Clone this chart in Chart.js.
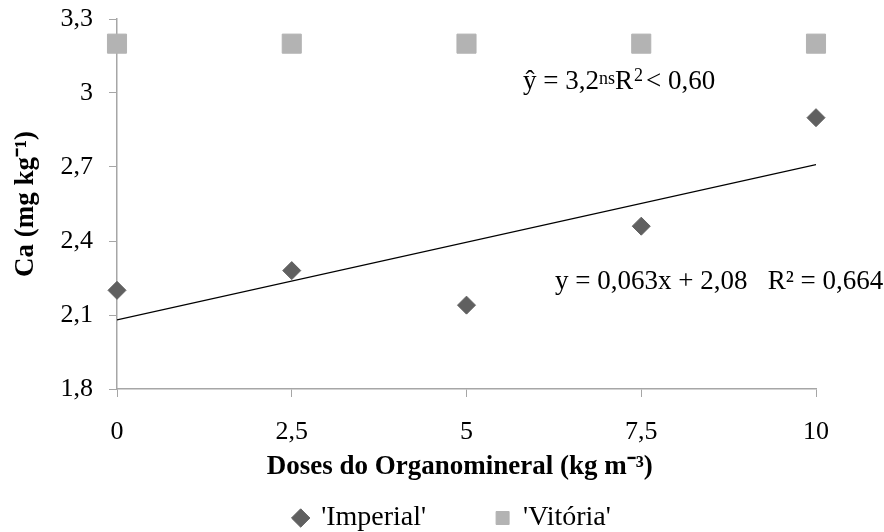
<!DOCTYPE html>
<html>
<head>
<meta charset="utf-8">
<script src="https://cdn.jsdelivr.net/npm/chart.js@4"></script>
<style>
  html, body { margin: 0; padding: 0; background: #fff; }
  #wrap { width: 884px; height: 532px; }
</style>
</head>
<body>
<div id="wrap"><canvas id="caChart" width="884" height="532"></canvas></div>
<script>
const doses = [0, 2.5, 5, 7.5, 10];
const imperial = [2.2, 2.28, 2.14, 2.46, 2.9];
const vitoria = [3.2, 3.2, 3.2, 3.2, 3.2];
// reta ajustada para 'Imperial' (extremos)
const trendX = [0, 10];
const trendY = [2.08, 2.71];
const yTicks = [1.8, 2.1, 2.4, 2.7, 3, 3.3];

const serif = "'Liberation Serif', 'Times New Roman', serif";

function fmt(v) {
  return String(Math.round(v * 10) / 10).replace(".", ",");
}

// sem folga automática dos rótulos: a área do gráfico fica onde o layout manda
function noPad(scale) {
  scale.paddingTop = 0;
  scale.paddingBottom = 0;
  scale.paddingLeft = 0;
  scale.paddingRight = 0;
}

// textos das equações, ancorados em coordenadas dos dados
const equations = {
  id: "equations",
  afterDraw(chart) {
    const { ctx, scales } = chart;
    const x = scales.x, y = scales.y;
    ctx.save();
    ctx.fillStyle = "#000";
    ctx.textBaseline = "alphabetic";
    ctx.textAlign = "left";

    // ŷ = 3,2ns R² < 0,60
    let px = x.getPixelForValue(5.81);
    let py = y.getPixelForValue(3.017);
    ctx.font = "27px " + serif;
    const a = "ŷ = 3,2";
    ctx.fillText(a, px, py);
    px += ctx.measureText(a).width;
    ctx.font = "18px " + serif;
    ctx.fillText("ns", px, py - 5);
    px += ctx.measureText("ns").width;
    ctx.font = "27px " + serif;
    ctx.fillText("R", px, py);
    px += ctx.measureText("R").width;
    ctx.font = "18px " + serif;
    ctx.fillText("2", px + 1, py - 8);
    px += ctx.measureText("2").width + 4;
    ctx.font = "27px " + serif;
    ctx.fillText("< 0,60", px, py);

    // y = 0,063x + 2,08   R² = 0,664
    px = x.getPixelForValue(6.266);
    py = y.getPixelForValue(2.204);
    ctx.fillText("y = 0,063x + 2,08   R² = 0,664", px, py);
    ctx.restore();
  }
};

const ctx = document.getElementById("caChart");

new Chart(ctx, {
  type: "scatter",
  data: {
    datasets: [
      {
        label: "'Imperial'",
        data: doses.map((d, i) => ({ x: d, y: imperial[i] })),
        pointStyle: "rectRot",
        pointRadius: 9,
        pointHoverRadius: 9,
        backgroundColor: "#606060",
        borderColor: "#606060",
        borderWidth: 1,
        clip: false
      },
      {
        label: "'Vitória'",
        data: doses.map((d, i) => ({ x: d, y: vitoria[i] })),
        pointStyle: "rect",
        pointRadius: 13.5,
        pointHoverRadius: 13.5,
        backgroundColor: "#b3b3b3",
        borderColor: "#b3b3b3",
        borderWidth: 1,
        clip: false
      },
      {
        type: "line",
        label: "trend",
        data: trendX.map((d, i) => ({ x: d, y: trendY[i] })),
        borderColor: "#000",
        borderWidth: 1.3,
        pointRadius: 0,
        fill: false
      }
    ]
  },
  options: {
    responsive: false,
    animation: false,
    layout: { padding: { left: 0, top: 19, right: 68, bottom: 0 } },
    plugins: {
      tooltip: { enabled: false },
      legend: {
        position: "bottom",
        fullSize: false,
        maxHeight: 28,
        labels: {
          usePointStyle: true,
          filter: (item) => item.text.trim() !== "trend",
          color: "#000",
          font: { family: serif, size: 28 },
          boxWidth: 13,
          boxHeight: 13,
          padding: 0,
          generateLabels(chart) {
            const items = Chart.defaults.plugins.legend.labels.generateLabels(chart);
            items.forEach((it) => {
              it.pointStyle = chart.data.datasets[it.datasetIndex].pointStyle;
              // espaço entre os itens como no original
              it.text += it.datasetIndex === 0 ? "\u2003\u2003\u2002" : "\u2003";
            });
            return items;
          }
        }
      }
    },
    scales: {
      x: {
        type: "linear",
        min: 0,
        max: 10,
        afterBuildTicks(scale) {
          scale.ticks = doses.map((v) => ({ value: v }));
        },
        afterFit(scale) {
          scale.height = 115;
          noPad(scale);
        },
        grid: {
          drawOnChartArea: false,
          drawTicks: true,
          tickLength: 8,
          color: "#a6a6a6"
        },
        border: { color: "#a6a6a6", width: 1.5 },
        ticks: {
          color: "#000",
          padding: 20,
          font: { family: serif, size: 26 },
          callback: (v) => fmt(v)
        },
        title: {
          display: true,
          text: "Doses do Organomineral (kg m⁻³)\u2002",
          color: "#000",
          font: { family: serif, size: 27, weight: "bold" },
          padding: { top: 0, bottom: 21 }
        }
      },
      y: {
        min: 1.8,
        max: 3.3,
        afterBuildTicks(scale) {
          scale.ticks = yTicks.map((v) => ({ value: v }));
        },
        afterFit(scale) {
          scale.width = 117;
          noPad(scale);
        },
        grid: {
          drawOnChartArea: false,
          drawTicks: true,
          tickLength: 8,
          color: "#a6a6a6"
        },
        border: { color: "#a6a6a6", width: 1.5 },
        ticks: {
          color: "#000",
          padding: 16,
          font: { family: serif, size: 26 },
          callback: (v) => fmt(v)
        },
        title: {
          display: true,
          text: "Ca (mg kg⁻¹)",
          color: "#000",
          font: { family: serif, size: 27, weight: "bold" },
          padding: { top: 10, bottom: 0 }
        }
      }
    }
  },
  plugins: [equations]
});
</script>
</body>
</html>
